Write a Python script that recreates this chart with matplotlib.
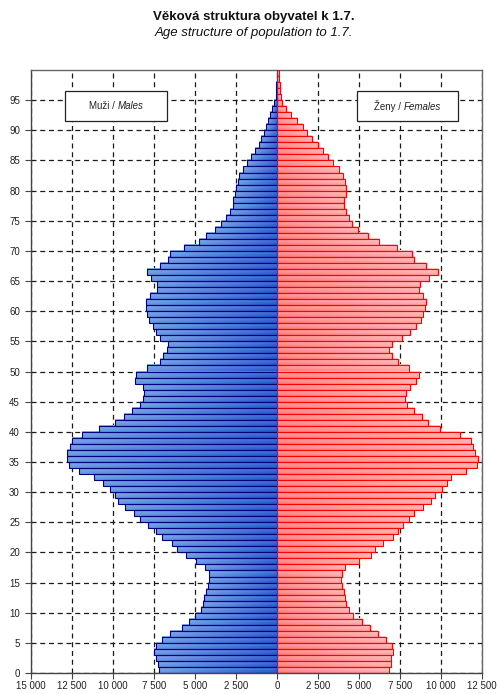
import numpy as np
import matplotlib
matplotlib.use("Agg")
import matplotlib.pyplot as plt
from matplotlib.patches import Rectangle
from matplotlib.offsetbox import TextArea, HPacker, AnnotationBbox

plt.rcParams['font.family'] = ['Liberation Sans', 'DejaVu Sans']

ages = np.arange(100)
male = [7195, 7255, 7400, 7500, 7380, 7030, 6510, 5820, 5350, 4985,
        4660, 4540, 4460, 4300, 4235, 4175, 4175, 4380, 4925, 5530,
        6100, 6430, 6990, 7380, 7845, 8330, 8740, 9285, 9710, 9870,
        10175, 10600, 11130, 12080, 12690, 12830, 12810, 12630, 12490, 11860,
        10845, 9890, 9345, 8820, 8330, 8170, 8130, 8190, 8675, 8615,
        7900, 7150, 6950, 6710, 6630, 7115, 7400, 7580, 7820, 7950,
        7990, 7970, 7720, 7320, 7320, 7660, 7930, 7150, 6630, 6550,
        5700, 4780, 4320, 3770, 3385, 3080, 2840, 2700, 2655, 2550,
        2530, 2390, 2290, 2090, 1825, 1600, 1320, 1115, 990, 810,
        650, 570, 425, 300, 160, 90, 60, 40, 30, 20]
female = [6820, 6940, 6940, 7085, 7005, 6620, 6130, 5670, 5200, 4635,
          4370, 4230, 4170, 4090, 3965, 3905, 3965, 4170, 4980, 5730,
          5990, 6475, 7045, 7370, 7690, 8035, 8380, 8905, 9390, 9655,
          10080, 10360, 10605, 11535, 12185, 12245, 12100, 11980, 11840, 11150,
          9960, 9210, 8865, 8380, 7955, 7830, 7895, 8115, 8500, 8660,
          8035, 7370, 7025, 6820, 7025, 7650, 8115, 8500, 8785, 8905,
          9050, 9110, 8905, 8640, 8725, 9270, 9800, 9110, 8380, 8260,
          7310, 6190, 5545, 4960, 4575, 4410, 4230, 4110, 4110, 4190,
          4190, 4150, 4010, 3765, 3420, 3100, 2815, 2470, 2105, 1840,
          1580, 1235, 830, 570, 325, 230, 180, 160, 130, 120]
x_ticks = [-15000, -12500, -10000, -7500, -5000, -2500, 0, 2500, 5000, 7500, 10000, 12500]
x_ticklabels = ["15 000", "12 500", "10 000", "7 500", "5 000", "2 500", "0",
                "2 500", "5 000", "7 500", "10 000", "12 500"]
y_ticks = list(range(0, 100, 5))
title_cz = "Věková struktura obyvatel k 1.7."
title_en = "Age structure of population to 1.7."

fig = plt.figure(figsize=(4.97, 6.94), dpi=100)
ax = fig.add_axes([31/497, 1-673/694, 451/497, 603/694])

def grad_img(c_outer, c_inner, c_top_boost, reverse):
    nx, ny = 32, 8
    t = np.linspace(0, 1, nx)
    if reverse:
        t = t[::-1]
    c_outer = np.array(c_outer)/255.0
    c_inner = np.array(c_inner)/255.0
    row = c_outer[None, :]*(1-t[:, None]) + c_inner[None, :]*t[:, None]
    v = np.linspace(1, 0, ny)
    img = np.zeros((ny, nx, 3))
    for i in range(ny):
        b = c_top_boost*v[i]
        img[i] = row + (1-row)*b
    return np.clip(img, 0, 1)

blue_img = grad_img((100, 150, 225), (35, 85, 205), 0.22, reverse=False)
red_img = grad_img((255, 165, 165), (255, 120, 120), 0.4, reverse=True)

mbars = ax.barh(ages + 0.5, -np.array(male), height=1.0, facecolor='none',
                edgecolor='#00007f', linewidth=0.8, zorder=3)
fbars = ax.barh(ages + 0.5, np.array(female), height=1.0, facecolor='none',
                edgecolor='#ff0000', linewidth=0.8, zorder=3)

for bars, img in ((mbars, blue_img), (fbars, red_img)):
    for b in bars:
        x0 = b.get_x(); w = b.get_width(); y0 = b.get_y(); h = b.get_height()
        xl, xr = min(x0, x0 + w), max(x0, x0 + w)
        ax.imshow(img, extent=(xl, xr, y0, y0 + h), origin='upper',
                  aspect='auto', interpolation='bilinear', zorder=2)

ax.set_xlim(-15000, 12500)
ax.set_ylim(0, 100)
ax.set_xticks(x_ticks)
ax.set_xticklabels(x_ticklabels, fontsize=7, color='#222222')
ax.set_yticks(y_ticks)
ax.set_yticklabels([str(v) for v in y_ticks], fontsize=7, color='#222222')
ax.tick_params(axis='both', direction='out', length=4, width=0.8, color='#444444', pad=2)
ax.tick_params(axis='y', pad=4)

ax.set_axisbelow(True)
ax.grid(True, which='major', color='#1a1a1a', linestyle=(0, (4, 3)), linewidth=0.9)
for s in ax.spines.values():
    s.set_color('#666666')
    s.set_linewidth(1.0)
ax.spines['left'].set_color('#444444')
ax.spines['bottom'].set_color('#444444')

def label_box(x0, x1, y0, y1, t1, t2):
    ax.add_patch(Rectangle((x0, y0), x1 - x0, y1 - y0, facecolor='white',
                           edgecolor='#222222', linewidth=0.9, zorder=5))
    ta1 = TextArea(t1, textprops=dict(fontsize=7, color='#222222'))
    ta2 = TextArea(t2, textprops=dict(fontsize=7, color='#222222', style='italic'))
    pk = HPacker(children=[ta1, ta2], pad=0, sep=0)
    ab = AnnotationBbox(pk, ((x0 + x1)/2, (y0 + y1)/2), frameon=False, zorder=6)
    ax.add_artist(ab)

label_box(-12900, -6700, 91.5, 96.5, "Muži / ", "Males")
label_box(4880, 11040, 91.5, 96.5, "Ženy / ", "Females")

fig.text(0.51, 1-17/694, title_cz, ha='center', va='center', fontsize=9.5, fontweight='bold', color='#111111')
fig.text(0.51, 1-33/694, title_en, ha='center', va='center', fontsize=9.5, style='italic', color='#111111')

fig.savefig("out.png", dpi=100)
